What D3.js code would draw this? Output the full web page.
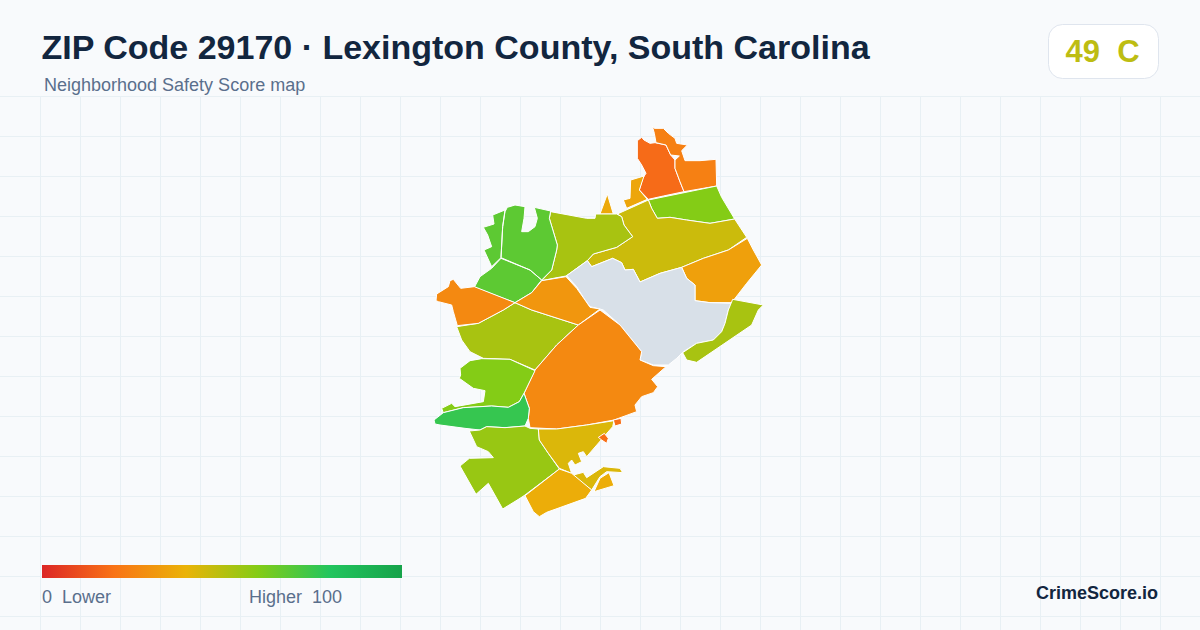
<!DOCTYPE html>
<html>
<head>
<meta charset="utf-8">
<title>ZIP Code 29170</title>
<script src="https://cdn.jsdelivr.net/npm/d3@7"></script>
<style>
  html, body { margin: 0; padding: 0; background: #f8fafc; }
  svg { display: block; font-family: "Liberation Sans", Arial, sans-serif; }
  text { white-space: pre; }
</style>
</head>
<body>
<div id="chart"></div>
<script>
// text
var titleText = 'ZIP Code 29170 · Lexington County, South Carolina';
var subtitleText = 'Neighborhood Safety Score map';
var badgeText = '49  C';
var legendLow = '0  Lower';
var legendHigh = 'Higher  100';
var brandText = 'CrimeScore.io';

// colour ramp of the legend
var rampStops = [0, 20, 40, 60, 80, 100];
var rampColors = ['#dc2626', '#f97316', '#eab308', '#84cc16', '#22c55e', '#16a34a'];

// score per neighborhood, null = no data
var scores = [18, 24, 36, 37, 60, 46, 34, 53, 68, null, 53, 27, 31, 27, 60, 76, 56, 43, 38, 19];

// outlines, in map units (3 units = 1px)
var outlines = [
  [[[652,92],[665,82],[672,90],[690,100],[705,98],[738,105],[752,135],[765,150],[765,175],[780,215],[792,245],[730,258],[685,268],[658,240],[668,205],[678,190],[665,165],[652,145]]],
  [[[697,48],[703,55],[730,55],[745,70],[765,85],[770,100],[802,105],[785,122],[795,152],[840,152],[888,148],[890,228],[792,245],[780,215],[765,175],[765,150],[778,138],[752,135],[738,105],[708,98],[703,70]]],
  [[[632,210],[672,198],[658,240],[682,268],[620,295],[610,270],[630,265]]],
  [[[562,252],[580,312],[540,312]]],
  [[[685,270],[890,228],[905,262],[944,327],[870,340],[800,330],[750,322],[712,325],[695,295]]],
  [[[592,312],[685,270],[695,295],[712,325],[750,322],[800,330],[870,340],[944,327],[980,382],[925,420],[850,445],[785,472],[720,490],[660,516],[640,478],[615,480],[605,458],[578,445],[515,470],[502,452],[520,432],[590,412],[638,380],[612,345],[605,320]]],
  [[[982,385],[1000,420],[1025,465],[980,520],[935,578],[870,578],[825,572],[825,525],[800,505],[785,472],[850,445],[925,420]]],
  [[[392,305],[500,325],[525,325],[527,312],[590,312],[605,320],[612,345],[638,380],[590,412],[520,432],[502,452],[438,498],[400,505],[365,512],[395,480],[410,420],[412,405],[388,325]]],
  [[[262,292],[285,285],[315,290],[312,325],[305,365],[325,365],[345,350],[352,325],[343,292],[392,303],[388,325],[412,405],[410,420],[395,480],[365,510],[330,480],[243,443],[248,350],[255,305]],
   [[218,315],[255,300],[248,350],[243,443],[215,470],[192,420],[215,410],[203,375],[190,352],[222,342]],
   [[243,445],[330,480],[365,510],[335,548],[285,578],[163,532],[180,500],[215,475]]],
  [[[440,497],[502,452],[515,470],[578,445],[605,458],[615,480],[640,478],[660,516],[720,490],[785,472],[800,505],[825,525],[825,572],[870,578],[935,580],[925,600],[915,640],[905,665],[880,690],[830,700],[790,725],[770,745],[745,765],[700,765],[660,750],[665,725],[600,645],[550,600],[540,597],[510,590],[495,570],[470,530]]],
  [[[938,568],[1030,585],[1015,600],[995,645],[830,757],[800,750],[788,728],[830,700],[880,690],[905,665],[915,640],[925,600]],
   [[250,600],[285,578],[335,600],[475,645],[410,705],[345,780],[270,748],[190,745],[150,725],[125,690],[110,650],[175,640]]],
  [[[50,552],[85,530],[90,512],[100,508],[122,535],[163,530],[285,578],[250,600],[175,640],[112,647],[100,605],[95,585],[55,575],[48,572]]],
  [[[285,578],[335,548],[365,512],[438,500],[470,535],[495,570],[510,592],[540,597],[475,645],[335,600]]],
  [[[540,600],[600,645],[665,725],[660,750],[700,767],[738,770],[695,808],[713,830],[700,848],[665,860],[645,885],[650,905],[582,930],[500,945],[410,957],[330,953],[325,925],[328,895],[312,850],[345,780],[410,705],[475,645]]],
  [[[120,775],[150,752],[185,746],[270,748],[345,782],[312,850],[298,875],[265,892],[215,888],[130,893],[70,908],[65,895],[95,880],[105,890],[190,875],[195,842],[160,835],[118,805],[122,795]]],
  [[[42,930],[70,908],[130,893],[215,888],[265,892],[298,875],[312,850],[328,895],[325,925],[315,948],[255,953],[200,950],[180,960],[135,955],[60,945],[45,942]]],
  [[[148,963],[180,960],[200,950],[255,953],[315,948],[330,955],[355,957],[358,990],[385,1030],[418,1077],[315,1155],[300,1165],[248,1197],[205,1120],[168,1153],[120,1068],[148,1045],[220,1043],[205,1025],[170,1010]]],
  [[[355,957],[410,957],[500,945],[582,932],[578,950],[500,1040],[490,1025],[475,1030],[485,1055],[465,1065],[455,1050],[445,1060],[455,1090],[418,1075],[385,1030],[358,990]],
   [[460,1095],[490,1087],[500,1103],[550,1070],[600,1075],[608,1088],[560,1085],[540,1100],[515,1140],[470,1105]]],
  [[[418,1077],[455,1090],[515,1140],[497,1165],[380,1207],[358,1220],[340,1205],[315,1157]],
   [[567,1088],[582,1127],[522,1145],[540,1105]]],
  [[[580,930],[603,925],[605,942],[585,948]],
   [[535,982],[553,970],[565,985],[560,1000],[545,990]]]
];

var width = 1200, height = 630;
var gridStep = 40;

var svg = d3.select('#chart').append('svg')
  .attr('width', width)
  .attr('height', height);

// background grid
var grid = svg.append('g').attr('stroke', '#e8f0f4').attr('stroke-width', 1);
d3.range(40, width, gridStep).forEach(function (gx) {
  grid.append('line').attr('x1', gx + 0.5).attr('x2', gx + 0.5).attr('y1', 96).attr('y2', height);
});
d3.range(96, height, gridStep).forEach(function (gy) {
  grid.append('line').attr('x1', 0).attr('x2', width).attr('y1', gy + 0.5).attr('y2', gy + 0.5);
});

// header
svg.append('text').attr('x', 41.5).attr('y', 59)
  .attr('font-size', 34).attr('font-weight', 700).attr('fill', '#12263f')
  .text(titleText);
svg.append('text').attr('x', 44).attr('y', 91)
  .attr('font-size', 18).attr('fill', '#5a6f8c')
  .text(subtitleText);

// score badge
svg.append('rect').attr('x', 1048.5).attr('y', 24.5).attr('width', 110).attr('height', 54).attr('rx', 14)
  .attr('fill', '#fff').attr('stroke', '#dfe5ee');
svg.append('text').attr('x', 1102.5).attr('y', 62).attr('text-anchor', 'middle')
  .attr('font-size', 31).attr('font-weight', 700).attr('fill', '#bdbd12')
  .text(badgeText);

// map
var color = d3.scaleLinear().domain(rampStops).range(rampColors);
var mapX = d3.scaleLinear().domain([0, 1200]).range([420, 820]);
var mapY = d3.scaleLinear().domain([0, 1200]).range([110, 510]);
var ring = d3.line()
  .x(function (p) { return mapX(p[0]); })
  .y(function (p) { return mapY(p[1]); })
  .curve(d3.curveLinearClosed);

svg.append('g').selectAll('path')
  .data(outlines)
  .enter()
  .append('path')
  .attr('d', function (rings) { return rings.map(ring).join(''); })
  .attr('fill', function (rings, i) { return scores[i] == null ? '#d8e0e8' : color(scores[i]); })
  .attr('stroke', '#fff')
  .attr('stroke-width', 1)
  .attr('stroke-linejoin', 'round');

// legend
var legendScale = d3.scaleLinear().domain([0, 100]).range([42, 402]);
var grad = svg.append('defs').append('linearGradient').attr('id', 'ramp');
rampStops.forEach(function (s, i) {
  grad.append('stop').attr('offset', s + '%').attr('stop-color', rampColors[i]);
});
svg.append('rect')
  .attr('x', legendScale(0)).attr('y', 565)
  .attr('width', legendScale(100) - legendScale(0)).attr('height', 13)
  .attr('fill', 'url(#ramp)');
svg.append('text').attr('x', 42).attr('y', 603).attr('font-size', 18).attr('fill', '#5a6f8c').text(legendLow);
svg.append('text').attr('x', 249).attr('y', 603).attr('font-size', 18).attr('fill', '#5a6f8c').text(legendHigh);

svg.append('text').attr('x', 1158).attr('y', 599).attr('text-anchor', 'end')
  .attr('font-size', 18).attr('font-weight', 700).attr('fill', '#12263f')
  .text(brandText);
</script>
</body>
</html>
